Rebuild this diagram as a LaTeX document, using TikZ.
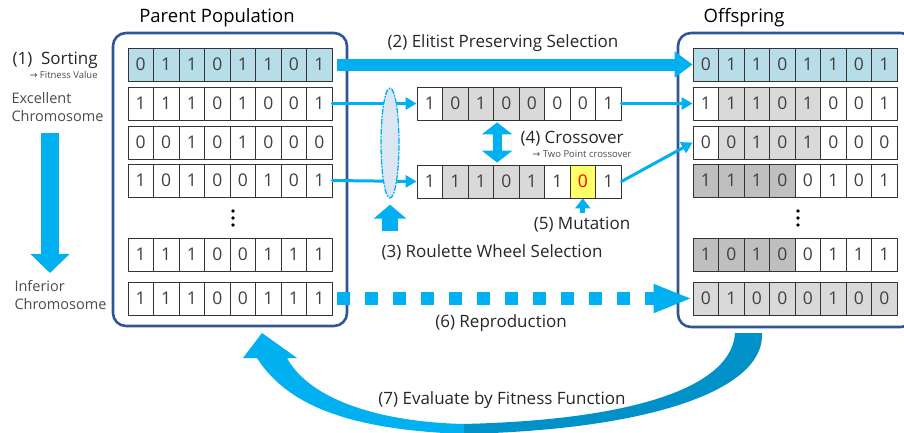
\documentclass[tikz,border=0pt]{standalone}
\usepackage{fontspec}
\setmainfont{Open Sans}
\newfontfamily\arrowfont{DejaVu Sans}
\usetikzlibrary{arrows.meta,shapes.geometric}

\definecolor{gablue}{HTML}{00B0F0}
\definecolor{gadark}{HTML}{0091C9}
\definecolor{boxblue}{HTML}{2F5597}
\definecolor{elite}{HTML}{B7DEE8}
\definecolor{lgray}{HTML}{D9D9D9}
\definecolor{dgray}{HTML}{BFBFBF}
\definecolor{mutyel}{HTML}{FFFF66}
\definecolor{wheelfill}{HTML}{DCE6F2}
\definecolor{txt}{HTML}{262626}

\tikzset{
  cell/.style={draw=black!80, line width=0.8pt, minimum width=25.5pt, minimum height=33pt, inner sep=0pt, font=\fontsize{17.5}{17.5}\selectfont, text=black!75},
  popbox/.style={draw=boxblue, line width=2.6pt, rounded corners=13pt},
  title/.style={font=\fontsize{18.5}{22}\selectfont, text=black},
  lab/.style={font=\fontsize{17}{20}\selectfont, text=txt},
  note/.style={font=\fontsize{9.5}{11}\selectfont, text=black!70},
  side/.style={font=\fontsize{14.5}{18}\selectfont, text=black!70, align=left},
  thin/.style={gablue, line width=3pt, -{Triangle[length=11pt,width=12pt]}},
  fat/.style={gablue, line width=12pt, line cap=butt, -{Triangle[length=18pt,width=25pt]}},
}

% one chromosome: name, left x, top y, bit/fill list
\newcommand{\chrom}[4]{
  \foreach \b/\f [count=\i] in {#4}
    \node[cell, fill=\f] (#1-\i) at ({#2+(\i-0.5)*25.5}, {#3+16.5}) {\b};
}

\begin{document}
\begin{tikzpicture}[x=1pt,y=-1pt,line cap=round,line join=round]
\useasboundingbox (0,0) rectangle (904,432);

% population boxes
\node[popbox, minimum width=234pt, minimum height=293pt] (parent) at (230,179.5) {};
\node[popbox, minimum width=236pt, minimum height=294pt] (offspring) at (796,180) {};
\node[title] (ptitle) at (217,18) {Parent Population};
\node[title] (otitle) at (744,18) {Offspring};

% parent chromosomes
\chrom{p1}{128}{48}{0/elite,1/elite,1/elite,0/elite,1/elite,1/elite,0/elite,1/elite}
\chrom{p2}{128}{87}{1/white,1/white,1/white,0/white,1/white,0/white,0/white,1/white}
\chrom{p3}{128}{126}{0/white,0/white,1/white,0/white,1/white,0/white,0/white,0/white}
\chrom{p4}{128}{164}{1/white,0/white,1/white,0/white,0/white,1/white,0/white,1/white}
\chrom{p5}{128}{238}{1/white,1/white,1/white,0/white,0/white,1/white,1/white,1/white}
\chrom{p6}{128}{282}{1/white,1/white,1/white,0/white,0/white,1/white,1/white,1/white}
\foreach \y in {211,218,225} \fill (233,\y) circle (1.8);

% selected pair
\chrom{a}{417}{87}{1/white,0/lgray,1/lgray,0/lgray,0/lgray,0/white,0/white,1/white}
\chrom{b}{417}{165}{1/white,1/lgray,1/lgray,0/lgray,1/lgray,1/white,{\textcolor{red}{0}}/mutyel,1/white}

% offspring chromosomes
\chrom{o1}{693}{48}{0/elite,1/elite,1/elite,0/elite,1/elite,1/elite,0/elite,1/elite}
\chrom{o2}{693}{87}{1/white,1/lgray,1/lgray,0/lgray,1/lgray,0/white,0/white,1/white}
\chrom{o3}{693}{126}{0/white,0/lgray,1/lgray,0/lgray,1/lgray,0/white,0/white,0/white}
\chrom{o4}{693}{164}{1/dgray,1/dgray,1/dgray,0/dgray,0/white,1/white,0/white,1/white}
\chrom{o5}{693}{238}{1/dgray,0/dgray,1/dgray,0/dgray,0/white,1/white,1/white,1/white}
\chrom{o6}{693}{282}{0/lgray,1/lgray,0/lgray,0/lgray,0/lgray,1/lgray,0/lgray,0/lgray}
\foreach \y in {211,218,225} \fill (798,\y) circle (1.8);

% sorting
\node[lab, anchor=west] (sort) at (9,60) {(1)\ \ Sorting};
\node[note, anchor=west] (sortnote) at (26,75) {{\arrowfont →} Fitness Value};
\node[side, anchor=west] (excel) at (8,107) {Excellent\\Chromosome};
\node[side, anchor=west] (infer) at (11,295) {Inferior\\Chromosome};
\coordinate (best) at (50,133);
\coordinate (worst) at (50,273);
\draw[gablue, line width=18pt, line cap=butt, -{Triangle[length=19pt,width=38pt]}] (best) -- (worst);

% elitist and reproduction
\draw[fat] ([xshift=5pt]p1-8.east) -- (o1-1.west);
\node[lab] (elitlab) at (503,43) {(2) Elitist Preserving Selection};
\draw[gablue, line width=13pt, line cap=butt, dash pattern=on 13pt off 15pt, -{Triangle[length=39pt,width=26pt]}] ([xshift=5pt]p6-8.east) -- (o6-1.west);
\node[lab] (replab) at (501,323) {(6) Reproduction};

% roulette wheel selection
\draw[thin] (p2-8.east) -- (a-1.west);
\draw[thin] (p4-8.east) -- (b-1.west);
\node[ellipse, draw=gablue, line width=1.3pt, dash pattern=on 5pt off 2pt on 1pt off 2pt, fill=wheelfill, minimum width=18pt, minimum height=110pt, inner sep=0pt] (wheel) at (390,143) {};
\coordinate (rwfrom) at (390,231);
\draw[gablue, line width=16pt, line cap=butt, -{Triangle[length=14pt,width=32pt]}] (rwfrom) -- ([yshift=-6pt]wheel.south);
\node[lab] (rwlab) at (492,252) {(3) Roulette Wheel Selection};

% crossover and mutation
\draw[gablue, line width=9pt, line cap=butt, {Triangle[length=12pt,width=30pt]}-{Triangle[length=12pt,width=30pt]}] ([xshift=4pt,yshift=-2pt]a-4.south west) -- ([xshift=4pt,yshift=2pt]b-4.north west);
\node[lab] (xlab) at (572,139) {(4) Crossover};
\node[note] (xnote) at (582,154) {{\arrowfont →} Two Point crossover};
\coordinate (mutfrom) at ([yshift=-15pt]b-7.south);
\draw[gablue, line width=5pt, line cap=butt, -{Triangle[length=10pt,width=15pt]}] (mutfrom) -- (b-7.south);
\node[lab] (mutlab) at (582,225) {(5) Mutation};
\draw[thin] (a-8.east) -- (o2-1.west);
\draw[thin] (b-8.east) -- (o3-1.west);

% evaluation loop
\fill[gadark] (762,333) .. controls (765,390) and (650,430) .. (462,434) -- (462,424) .. controls (640,420) and (732,385) .. (735,333) -- cycle;
\fill[gablue] (257,358) .. controls (290,410) and (360,430) .. (464,434) -- (464,424) .. controls (380,422) and (310,400) .. (287,358) -- (297,358) -- (262,333) -- (243,358) -- cycle;
\node[lab] (evallab) at (502,400) {(7) Evaluate by Fitness Function};
\end{tikzpicture}
\end{document}
